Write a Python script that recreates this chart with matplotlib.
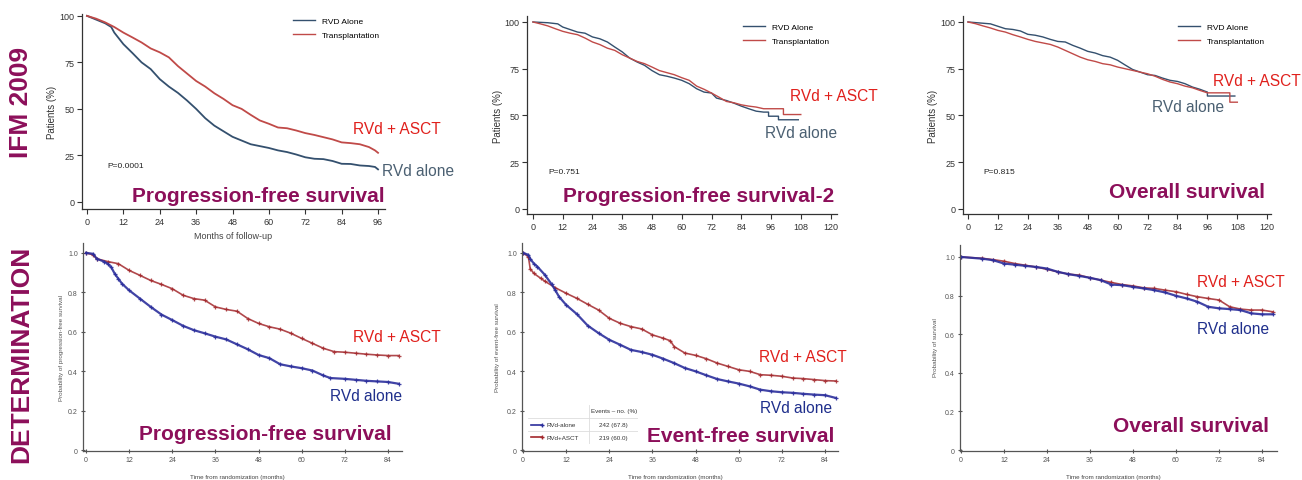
import matplotlib.pyplot as plt
from matplotlib.lines import Line2D

plt.rcParams['font.family'] = ['Liberation Sans', 'DejaVu Sans']

W, H = 1302, 481

# IFM 2009 - progression-free survival (%)
ifm_pfs_t_rvd = [0, 3, 6, 8, 9, 12, 15, 18, 21, 24, 27, 30, 33, 36, 39, 42, 45, 48, 51, 54,
                 57, 60, 63, 66, 69, 72, 75, 78, 81, 84, 87, 90, 93, 95, 96]
ifm_pfs_rvd = [100, 98, 96, 94, 91, 84.8, 80, 75, 71.4, 66, 62, 58.6, 54.5, 50, 45, 41, 38, 35, 33, 31,
               30, 29, 27.7, 26.8, 25.5, 24, 23.2, 23, 22, 20.5, 20.4, 19.6, 19.3, 18.8, 17.5]
ifm_pfs_t_asct = [0, 3, 6, 9, 12, 15, 18, 21, 24, 27, 30, 33, 36, 39, 42, 45, 48, 51, 54, 57,
                  60, 63, 66, 69, 72, 75, 78, 81, 84, 87, 90, 93, 95, 96]
ifm_pfs_asct = [100, 98.5, 96.5, 94, 91, 88.4, 85.7, 82.5, 80.4, 77.7, 73, 69, 65, 62, 58.4, 55.4, 52, 50,
                46.8, 43.8, 42, 40, 39.6, 38.4, 37, 36, 34.8, 33.6, 32, 31.6, 31, 29.5, 27.7, 26.4]

# IFM 2009 - PFS2 (%)
ifm_pfs2_t_rvd = [0, 6, 10, 12, 18, 21, 24, 27, 30, 33, 36, 39, 42, 45, 48, 51, 54, 57, 60, 63,
                  66, 69, 72, 74, 78, 81, 84, 87, 90, 93, 95, 95, 99, 99, 107]
ifm_pfs2_rvd = [100, 99.6, 99, 97.3, 94.6, 94, 92, 91, 89.3, 86.6, 84, 80.7, 78.6, 76.8, 74, 71.8, 71, 70,
                68.8, 67, 64.3, 62.5, 62, 59.3, 58, 56.6, 55, 53.6, 52.3, 51.8, 51.8, 49.6, 49.6,
                47.7, 47.7]
ifm_pfs2_t_asct = [0, 3, 6, 9, 12, 15, 18, 21, 24, 27, 30, 33, 36, 39, 42, 45, 48, 51, 54, 57,
                   60, 63, 66, 69, 72, 75, 78, 81, 84, 87, 90, 93, 96, 101, 101, 108]
ifm_pfs2_asct = [100, 99, 97.9, 96.4, 95, 94, 93.2, 91.4, 89.3, 87.9, 86, 84.8, 82.5, 80.7, 78.9, 77.7,
                 75.9, 74, 72.9, 71.8, 70.2, 68.8, 65.7, 64, 62, 59.8, 57.5, 56.8, 55.7, 55, 54.5,
                 53.6, 53.6, 53.6, 50.5, 50.5]

# IFM 2009 - overall survival (%)
ifm_os_t_rvd = [0, 9, 12, 15, 18, 21, 24, 27, 30, 33, 36, 39, 42, 45, 48, 51, 54, 57, 60, 63,
                66, 69, 72, 75, 78, 81, 84, 87, 90, 93, 96, 96, 107]
ifm_os_rvd = [100, 99, 97.7, 96.4, 96, 95.2, 93.4, 92.9, 92, 90.7, 89.6, 89.3, 87.5, 86, 84.3, 83.4, 82,
              81.2, 79.5, 77, 74.6, 73.2, 71.8, 71.4, 70, 68.8, 68.2, 67, 65.2, 64, 62.5, 60.4, 60.4]
ifm_os_t_asct = [0, 3, 6, 9, 12, 15, 18, 21, 24, 27, 30, 33, 36, 39, 42, 45, 48, 51, 54, 57,
                 60, 63, 66, 69, 72, 75, 78, 81, 84, 87, 90, 93, 96, 105, 105, 108]
ifm_os_asct = [100, 99.1, 97.9, 96.8, 95.5, 94.6, 93.2, 92, 90.7, 89.6, 88.8, 88, 86.6, 84.8, 83, 81.2,
               79.8, 78.9, 77.7, 77.1, 75.9, 75, 74.1, 73.2, 72.3, 71, 69.3, 67.9, 67, 65.7, 64.8,
               63.4, 62.1, 62.1, 57.1, 57.1]

# DETERMINATION - progression-free survival (probability)
det_pfs_t_rvd = [0, 2, 3, 5, 6, 7, 8, 9, 10, 12, 15, 18, 21, 24, 27, 30, 33, 36, 39, 42,
                 45, 48, 51, 54, 57, 60, 63, 66, 68, 72, 75, 78, 81, 84, 87]
det_pfs_rvd = [1.0, 0.995, 0.97, 0.956, 0.945, 0.928, 0.894, 0.869, 0.844, 0.81, 0.768, 0.726, 0.687,
               0.659, 0.63, 0.608, 0.592, 0.575, 0.561, 0.536, 0.511, 0.482, 0.466, 0.435, 0.424,
               0.415, 0.403, 0.378, 0.365, 0.361, 0.356, 0.351, 0.348, 0.345, 0.336]
det_pfs_t_asct = [0, 2, 3, 6, 9, 12, 15, 18, 21, 24, 27, 30, 33, 36, 39, 42, 45, 48, 51, 54,
                  57, 60, 63, 66, 69, 72, 75, 78, 81, 84, 87]
det_pfs_asct = [1.0, 0.99, 0.97, 0.956, 0.945, 0.911, 0.886, 0.86, 0.84, 0.818, 0.785, 0.768, 0.76,
                0.726, 0.713, 0.704, 0.667, 0.642, 0.625, 0.613, 0.592, 0.566, 0.541, 0.516, 0.499,
                0.496, 0.491, 0.486, 0.482, 0.479, 0.479]

# DETERMINATION - event-free survival (probability)
det_efs_t_rvd = [0, 1.5, 2, 3, 4, 6, 8, 9, 10, 12, 15, 18, 21, 24, 27, 30, 33, 36, 39, 42,
                 45, 48, 51, 54, 57, 60, 63, 66, 69, 72, 75, 78, 81, 84, 87]
det_efs_rvd = [1.0, 0.99, 0.97, 0.946, 0.93, 0.89, 0.84, 0.81, 0.778, 0.736, 0.689, 0.631, 0.593, 0.559,
               0.534, 0.508, 0.497, 0.483, 0.463, 0.441, 0.416, 0.399, 0.379, 0.36, 0.348, 0.337,
               0.323, 0.306, 0.298, 0.293, 0.29, 0.285, 0.281, 0.278, 0.264]
det_efs_t_asct = [0, 1.5, 2, 3, 5, 6, 9, 12, 15, 18, 21, 24, 27, 30, 33, 36, 39, 41, 42, 45,
                  48, 51, 54, 57, 60, 63, 66, 69, 72, 75, 78, 81, 84, 87]
det_efs_asct = [1.0, 0.98, 0.92, 0.896, 0.87, 0.857, 0.823, 0.795, 0.769, 0.739, 0.71, 0.668, 0.643,
                0.626, 0.614, 0.584, 0.567, 0.554, 0.525, 0.492, 0.48, 0.463, 0.441, 0.424, 0.407,
                0.399, 0.382, 0.379, 0.374, 0.365, 0.362, 0.357, 0.352, 0.35]

# DETERMINATION - overall survival (probability)
det_os_t = [0, 6, 9, 12, 15, 18, 21, 24, 27, 30, 33, 36, 39, 42, 45, 48, 51, 54, 57, 60,
            63, 66, 69, 72, 75, 78, 81, 84, 87]
det_os_rvd = [1.0, 0.991, 0.983, 0.966, 0.96, 0.954, 0.948, 0.94, 0.923, 0.911, 0.902, 0.892, 0.88,
              0.857, 0.854, 0.845, 0.837, 0.828, 0.816, 0.799, 0.785, 0.768, 0.742, 0.734, 0.73,
              0.725, 0.708, 0.703, 0.703]
det_os_asct = [1.0, 0.993, 0.986, 0.978, 0.966, 0.957, 0.948, 0.936, 0.923, 0.911, 0.906, 0.892, 0.88,
               0.868, 0.857, 0.85, 0.84, 0.837, 0.828, 0.82, 0.806, 0.794, 0.785, 0.777, 0.742,
               0.73, 0.725, 0.725, 0.716]

top_yticks = [0, 25, 50, 75, 100]
bot_yticks = [0, 0.2, 0.4, 0.6, 0.8, 1.0]
bot_yticklabels = ['0', '0.2', '0.4', '0.6', '0.8', '1.0']
legend_labels = ['RVD Alone', 'Transplantation']
events_rows = [('RVd-alone', '242 (67.8)'), ('RVd+ASCT', '219 (60.0)')]

PURPLE = '#8c0f5a'
RED_TXT = '#e0201c'
SLATE_TXT = '#4b6072'
NAVY_TXT = '#1f2f8c'
TOP_BLUE = '#34506e'
TOP_RED = '#c04a48'
BOT_BLUE = '#2c2f9c'
BOT_RED = '#a3282c'

fig = plt.figure(figsize=(W / 100, H / 100), dpi=100)


def px(x, y):
    return x / W, 1 - y / H


def box(l, t, r, b):
    return [l / W, 1 - b / H, (r - l) / W, (b - t) / H]


def style(ax, xlim, ylim, xticks, yticks, yticklabels, fs, col, tdir):
    ax.set_xlim(*xlim)
    ax.set_ylim(*ylim)
    ax.set_xticks(xticks)
    ax.set_yticks(yticks)
    ax.set_yticklabels(yticklabels)
    for s in ['top', 'right']:
        ax.spines[s].set_visible(False)
    for s in ['left', 'bottom']:
        ax.spines[s].set_color(col)
        ax.spines[s].set_linewidth(0.9)
    ax.tick_params(direction=tdir, length=3.5, width=0.8, colors=col, labelsize=fs, pad=2)
    ax.patch.set_alpha(0)


# ---------------- top row: IFM 2009 ----------------
top = [
    (box(82, 15, 385, 210), (-1.65, 98.3), (-3.8, 101), list(range(0, 97, 12)),
     ifm_pfs_t_rvd, ifm_pfs_rvd, ifm_pfs_t_asct, ifm_pfs_asct, 1.3),
    (box(527, 17, 837, 215), (-2.4, 122.6), (-2.7, 103.2), list(range(0, 121, 12)),
     ifm_pfs2_t_rvd, ifm_pfs2_rvd, ifm_pfs2_t_asct, ifm_pfs2_asct, 1.0),
    (box(963, 17, 1271, 215), (-2.0, 121.5), (-2.7, 103.2), list(range(0, 121, 12)),
     ifm_os_t_rvd, ifm_os_rvd, ifm_os_t_asct, ifm_os_asct, 1.0),
]
for b, xl, yl, xt, tb, yb, tr, yr, lw in top:
    ax = fig.add_axes(b)
    ax.plot(tb, yb, color=TOP_BLUE, lw=lw)
    ax.plot(tr, yr, color=TOP_RED, lw=lw)
    style(ax, xl, yl, xt, top_yticks, [str(v) for v in top_yticks], 6.5, '#333333', 'out')

# legends of the top row
for lx, ly in [(293, 18), (743, 24), (1178, 24)]:
    handles = [Line2D([], [], color=TOP_BLUE, lw=1.0), Line2D([], [], color=TOP_RED, lw=1.0)]
    fig.legend(handles, legend_labels, loc='upper left', bbox_to_anchor=px(lx, ly),
               frameon=False, fontsize=6, handlelength=2.6, handletextpad=0.9,
               labelspacing=0.75, borderpad=0, borderaxespad=0)

for x, y, s in [(52, 112, 'Patients (%)'), (498, 116, 'Patients (%)'), (933, 116, 'Patients (%)')]:
    fig.text(*px(x, y), s, rotation=90, ha='center', va='center', fontsize=7, color='#333333')
for x, y, s in [(107, 166, 'P=0.0001'), (548, 173, 'P=0.751'), (983, 173, 'P=0.815')]:
    fig.text(*px(x, y), s, ha='left', va='center', fontsize=6, color='#222222')
fig.text(*px(233, 237), 'Months of follow-up', ha='center', va='center', fontsize=6.5, color='#444444')

# ---------------- bottom row: DETERMINATION ----------------
bottom = [
    (box(83, 244, 402, 452), (-0.83, 87.9), (-0.005, 1.05),
     det_pfs_t_rvd, det_pfs_rvd, det_pfs_t_asct, det_pfs_asct),
    (box(522, 244, 838, 452), (-0.28, 87.6), (-0.005, 1.05),
     det_efs_t_rvd, det_efs_rvd, det_efs_t_asct, det_efs_asct),
    (box(960, 246, 1277, 452), (-0.28, 88.2), (-0.005, 1.062),
     det_os_t, det_os_rvd, det_os_t, det_os_asct),
]
for b, xl, yl, tb, yb, tr, yr in bottom:
    ax = fig.add_axes(b)
    ax.plot(tr, yr, color=BOT_RED, lw=1.2, alpha=0.85, marker='+', ms=3.5, mew=0.9)
    ax.plot(tb, yb, color=BOT_BLUE, lw=1.6, alpha=0.9, marker='+', ms=3.5, mew=0.9)
    style(ax, xl, yl, list(range(0, 85, 12)), bot_yticks, bot_yticklabels, 5, '#555555', 'inout')

for x, y, s in [(61, 348, 'Probability of progression-free survival'),
                (498, 348, 'Probability of event-free survival'),
                (935, 348, 'Probability of survival')]:
    fig.text(*px(x, y), s, rotation=90, ha='center', va='center', fontsize=4.5, color='#555555')
for x in [237, 675, 1113]:
    fig.text(*px(x, 478), 'Time from randomization (months)', ha='center', va='center',
             fontsize=4.5, color='#444444')

# events table in the EFS panel
tab = fig.add_axes(box(528, 406, 638, 445))
tab.set_xlim(0, 1)
tab.set_ylim(0, 1)
tab.axis('off')
for y in [0.66, 0.33, 0.0]:
    tab.plot([0, 1], [y, y], color='#dddddd', lw=0.6)
tab.plot([0.55, 0.55], [0, 1], color='#dddddd', lw=0.6)
tab.text(0.78, 0.86, 'Events \u2013 no. (%)', ha='center', va='center', fontsize=4.5, color='#333333')
for i, (name, val) in enumerate(events_rows):
    y = 0.5 - i * 0.33
    c = BOT_BLUE if i == 0 else BOT_RED
    tab.plot([0.03, 0.13], [y, y], color=c, lw=1.2, marker='+', ms=3, markevery=[1])
    tab.text(0.17, y, name, ha='left', va='center', fontsize=4.5, color='#333333')
    tab.text(0.78, y, val, ha='center', va='center', fontsize=4.5, color='#333333')

# ---------------- annotations ----------------
for x, y in [(353, 130), (790, 97), (1213, 82), (353, 338), (759, 358), (1197, 283)]:
    fig.text(*px(x, y), 'RVd + ASCT', ha='left', va='center', fontsize=11.2, color=RED_TXT)
for (x, y), c in zip([(382, 172), (765, 134), (1152, 108), (330, 397), (760, 409), (1197, 330)],
                     [SLATE_TXT] * 3 + [NAVY_TXT] * 3):
    fig.text(*px(x, y), 'RVd alone', ha='left', va='center', fontsize=11.2, color=c)

for x, y, s in [(258, 197, 'Progression-free survival'), (699, 197, 'Progression-free survival-2'),
                (1187, 193, 'Overall survival'), (265, 434, 'Progression-free survival'),
                (741, 437, 'Event-free survival'), (1191, 427, 'Overall survival')]:
    fig.text(*px(x, y), s, ha='center', va='center', fontsize=15, fontweight='bold', color=PURPLE)

fig.text(*px(21, 102), 'IFM 2009', rotation=90, ha='center', va='center', fontsize=19,
         fontweight='bold', color=PURPLE)
fig.text(*px(21, 354), 'DETERMINATION', rotation=90, ha='center', va='center', fontsize=19,
         fontweight='bold', color=PURPLE)

fig.savefig('out.png', dpi=100, facecolor='white')
